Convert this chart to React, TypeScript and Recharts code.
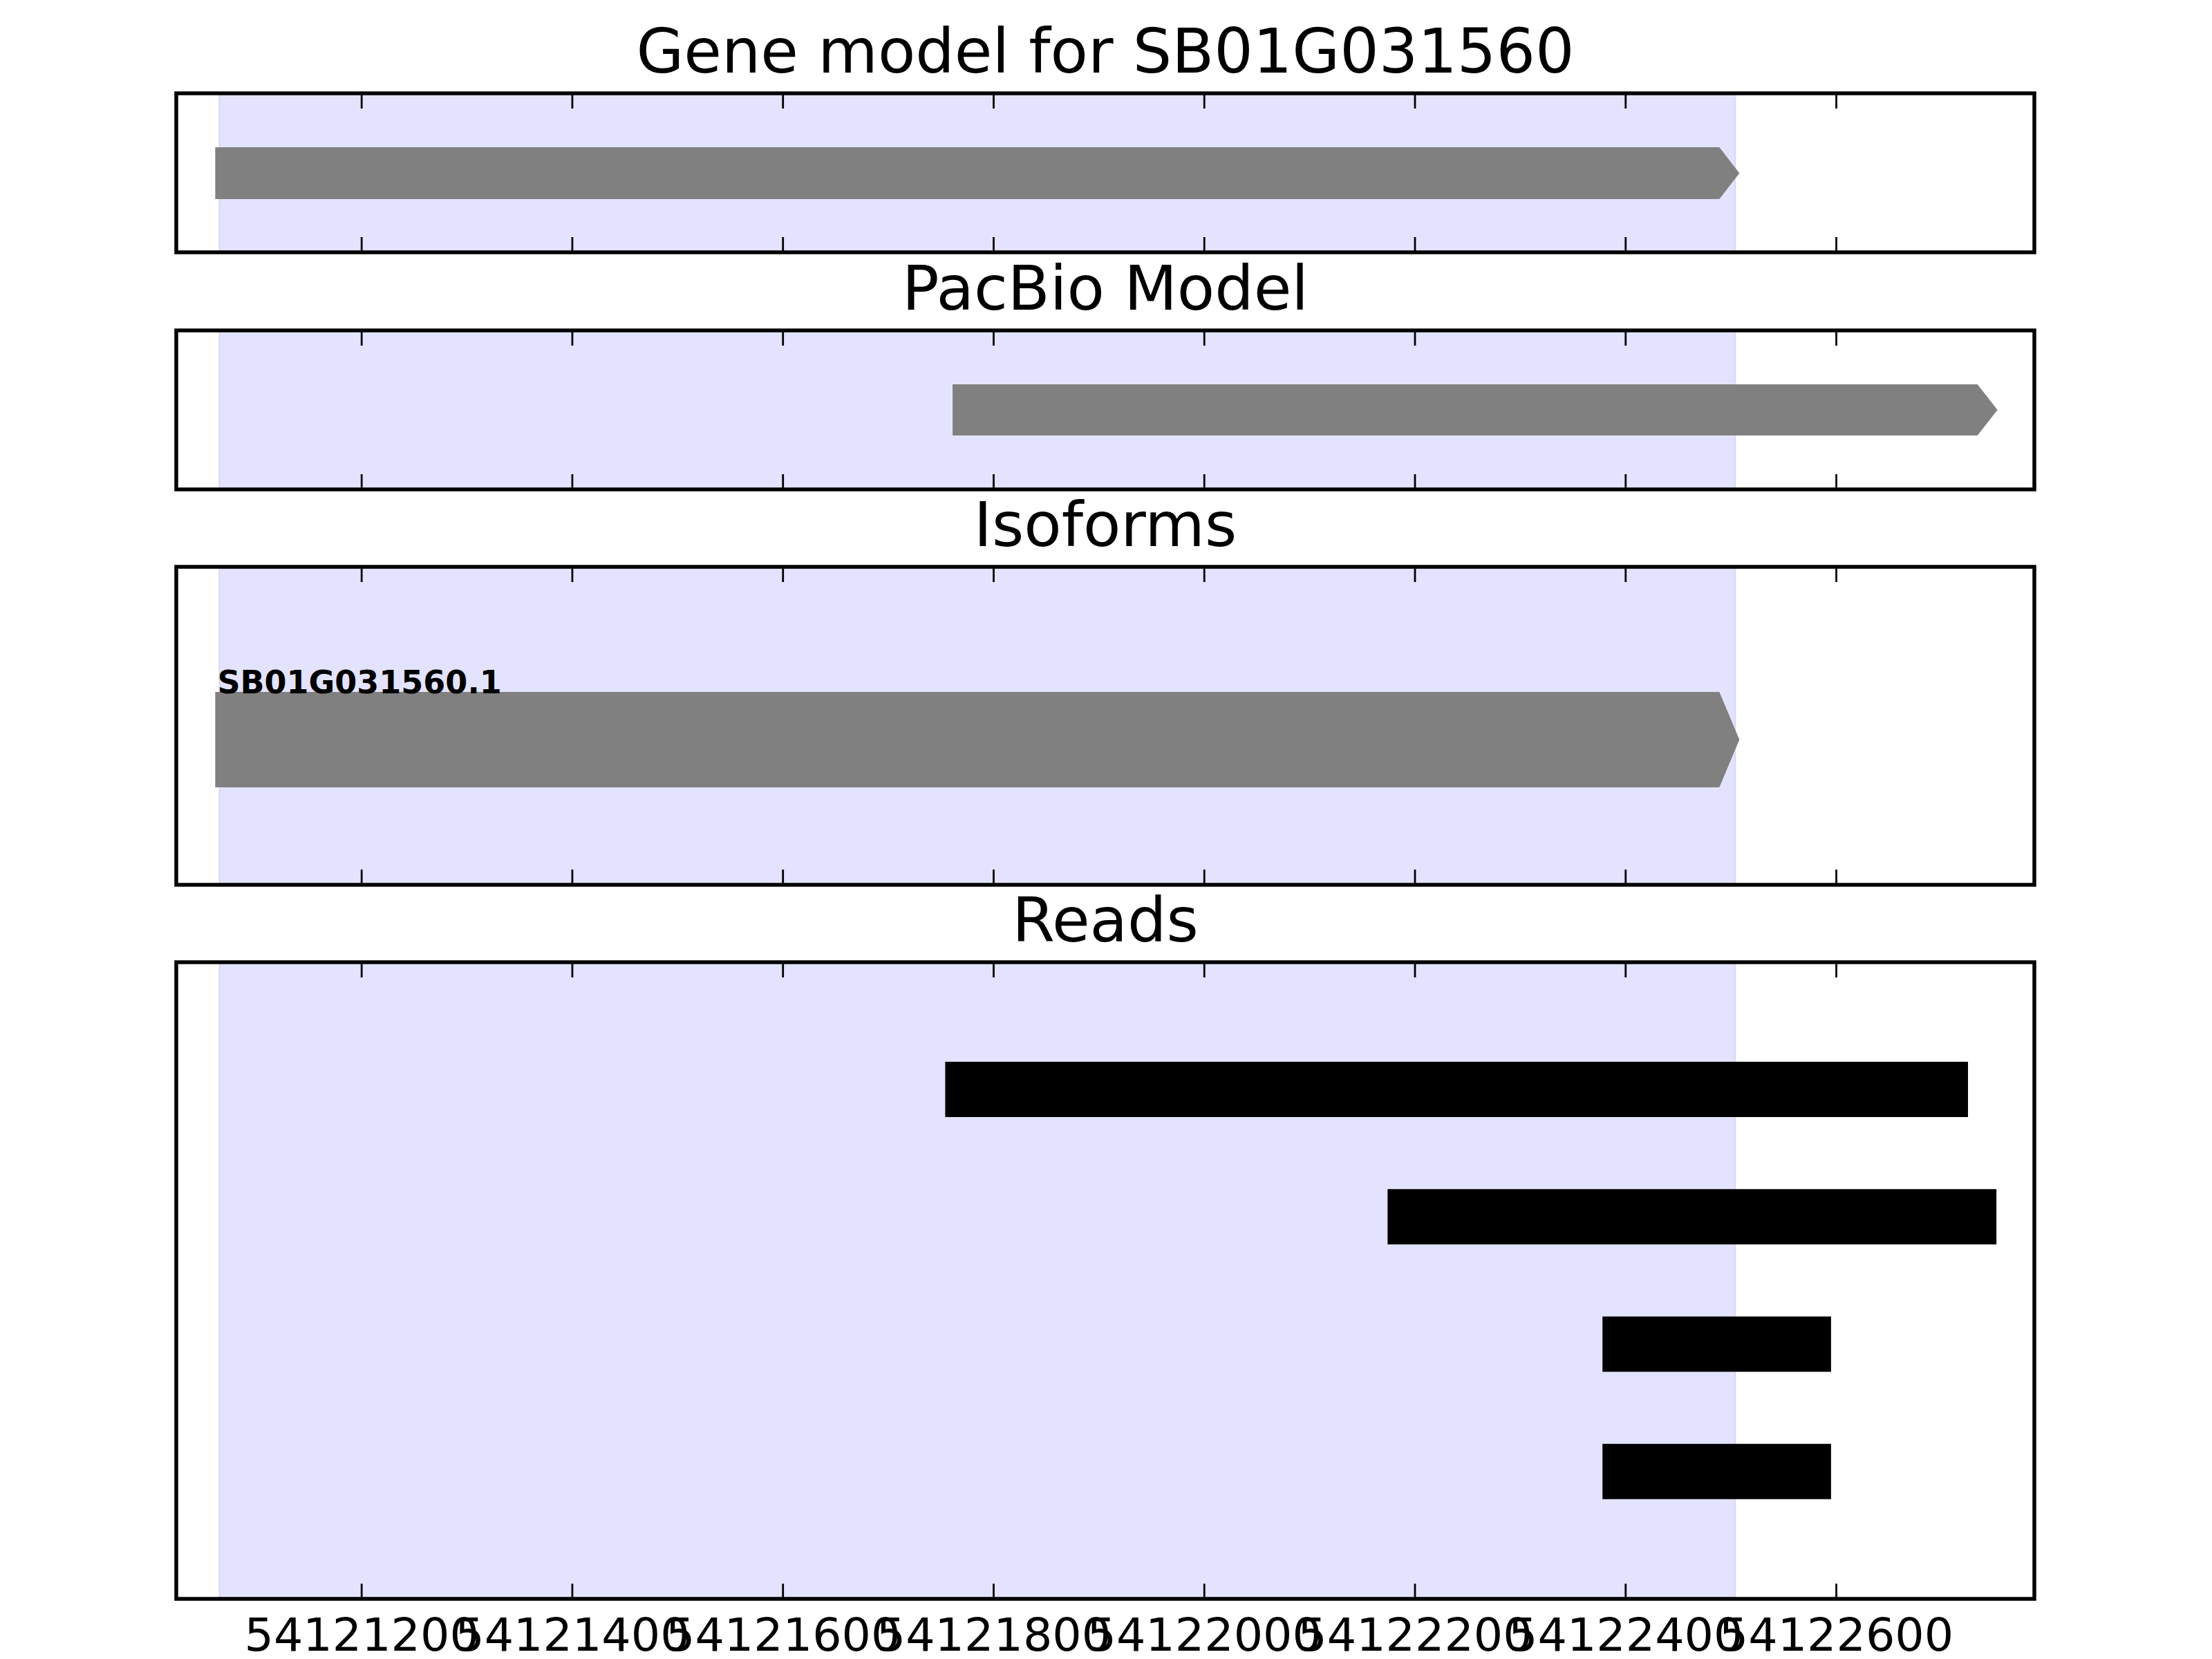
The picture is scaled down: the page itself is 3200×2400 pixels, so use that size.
import { ComposedChart, Bar, XAxis, YAxis, ReferenceArea, LabelList } from 'recharts';

const FONT = '"DejaVu Sans", sans-serif';

// genomic window and tick positions
const X_DOMAIN: [number, number] = [54121024, 54122788];
const X_TICKS = [54121200, 54121400, 54121600, 54121800, 54122000, 54122200, 54122400, 54122600];

// shaded locus of the annotated gene
const LOCUS_START = 54121065;
const LOCUS_END = 54122504;

const GENE_IDS = ['SB01G031560'];
const GENE_STARTS = [54121061];
const GENE_ENDS = [54122508];

const PACBIO_IDS = ['PacBio'];
const PACBIO_STARTS = [54121761];
const PACBIO_ENDS = [54122753];

const ISOFORM_IDS = ['SB01G031560.1'];
const ISOFORM_STARTS = [54121061];
const ISOFORM_ENDS = [54122508];

const READ_IDS = ['read 1', 'read 2', 'read 3', 'read 4'];
const READ_STARTS = [54121754, 54122174, 54122378, 54122378];
const READ_ENDS = [54122725, 54122752, 54122595, 54122595];

const toRows = (ids: string[], starts: number[], ends: number[]) =>
  ids.map((name, i) => ({ name, range: [starts[i], ends[i]] }));

const AXES_LEFT = 255;
const AXES_RIGHT = 2943;

// arrow-shaped gene feature (strand +)
const Arrow = (props: any) => {
  const { x, y, width, height, fill } = props;
  const head = 29;
  const mid = y + height / 2;
  const pts = `${x},${y} ${x + width - head},${y} ${x + width},${mid} ${x + width - head},${y + height} ${x},${y + height}`;
  return <polygon points={pts} fill={fill} />;
};

const IsoLabel = (props: any) => {
  const { x, y, value } = props;
  return (
    <text x={x + 3} y={y + 2} fontFamily={FONT} fontWeight="bold" fontSize={46} fill="#000">
      {value}
    </text>
  );
};

// the category axis is padded, so stretch span rectangles over the padding too
const fullHeight = (padTop: number, padBottom: number) => (props: any) => {
  const { x, y, width, height, fill, stroke, strokeWidth } = props;
  return (
    <rect
      x={x}
      y={y - padTop}
      width={width}
      height={height + padTop + padBottom}
      fill={fill}
      stroke={stroke}
      strokeWidth={strokeWidth}
    />
  );
};

const makeBottomTick = (showLabel: boolean) => (props: any) => {
  const { x, y, payload } = props;
  return (
    <g>
      <line x1={x} x2={x} y1={y} y2={y - 22} stroke="#000" strokeWidth={2.8} />
      {showLabel && (
        <text x={x} y={y + 75} textAnchor="middle" fontFamily={FONT} fontSize={66.7} fill="#000">
          {payload.value}
        </text>
      )}
    </g>
  );
};

const TopTick = (props: any) => {
  const { x, y } = props;
  return <line x1={x} x2={x} y1={y} y2={y + 22} stroke="#000" strokeWidth={2.8} />;
};

interface PanelProps {
  top: number;
  height: number;
  rows: { name: string; range: number[] }[];
  barSize: number;
  fill: string;
  arrow?: boolean;
  padTop?: number;
  padBottom?: number;
  label?: boolean;
  tickLabels?: boolean;
}

const Panel = ({ top, height, rows, barSize, fill, arrow, padTop = 0, padBottom = 0, label, tickLabels }: PanelProps) => {
  const mt = 12;
  const mb = tickLabels ? 100 : 12;
  const spanShape = fullHeight(padTop, padBottom);
  return (
    <div style={{ position: 'absolute', left: 0, top: top - mt }}>
      <ComposedChart
        width={3200}
        height={height + mt + mb}
        layout="vertical"
        data={rows}
        margin={{ top: mt - 1, right: 3200 - AXES_RIGHT, bottom: mb - 1, left: AXES_LEFT }}
      >
        <XAxis
          type="number"
          domain={X_DOMAIN}
          ticks={X_TICKS}
          allowDataOverflow
          height={1}
          tickSize={0}
          tickMargin={0}
          axisLine={false}
          tickLine={false}
          interval={0}
          tick={makeBottomTick(!!tickLabels)}
        />
        <XAxis
          xAxisId="top"
          orientation="top"
          type="number"
          domain={X_DOMAIN}
          ticks={X_TICKS}
          allowDataOverflow
          height={1}
          tickSize={0}
          tickMargin={0}
          axisLine={false}
          tickLine={false}
          interval={0}
          tick={TopTick}
        />
        <YAxis type="category" dataKey="name" hide padding={{ top: padTop, bottom: padBottom }} />
        <ReferenceArea
          x1={LOCUS_START}
          x2={LOCUS_END}
          fill="#e3e3ff"
          stroke="#d8d8f0"
          strokeWidth={2}
          shape={spanShape}
        />
        <Bar dataKey="range" barSize={barSize} fill={fill} shape={arrow ? Arrow : undefined} isAnimationActive={false}>
          {label && <LabelList dataKey="name" content={IsoLabel} />}
        </Bar>
        <ReferenceArea
          x1={X_DOMAIN[0]}
          x2={X_DOMAIN[1]}
          fill="none"
          stroke="#000"
          strokeWidth={5.5}
          shape={spanShape}
        />
      </ComposedChart>
    </div>
  );
};

const TITLES = ['Gene model for SB01G031560', 'PacBio Model', 'Isoforms', 'Reads'];
const PANEL_TOPS = [135, 478, 820, 1392];

export default function App() {
  const cx = (AXES_LEFT + AXES_RIGHT) / 2;
  return (
    <div style={{ position: 'absolute', left: 0, top: 0, width: 3200, height: 2400, background: '#fff', overflow: 'hidden' }}>
      <Panel top={135} height={230} rows={toRows(GENE_IDS, GENE_STARTS, GENE_ENDS)} barSize={75} fill="#808080" arrow />
      <Panel top={478} height={230} rows={toRows(PACBIO_IDS, PACBIO_STARTS, PACBIO_ENDS)} barSize={74} fill="#808080" arrow />
      <Panel
        top={820}
        height={460}
        rows={toRows(ISOFORM_IDS, ISOFORM_STARTS, ISOFORM_ENDS)}
        barSize={138}
        fill="#808080"
        arrow
        padTop={40}
        label
      />
      <Panel
        top={1392}
        height={921}
        rows={toRows(READ_IDS, READ_STARTS, READ_ENDS)}
        barSize={80}
        fill="#000"
        padTop={92}
        padBottom={92}
        tickLabels
      />
      <svg width={3200} height={2400} style={{ position: 'absolute', left: 0, top: 0, pointerEvents: 'none' }}>
        {TITLES.map((t, i) => (
          <text key={t} x={cx} y={PANEL_TOPS[i] - 30} textAnchor="middle" fontFamily={FONT} fontSize={88.9} fill="#000">
            {t}
          </text>
        ))}
      </svg>
    </div>
  );
}
